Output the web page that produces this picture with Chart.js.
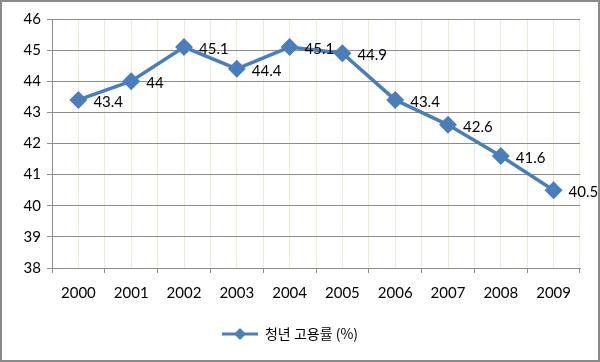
<!DOCTYPE html>
<html>
<head>
<meta charset="utf-8">
<script src="https://cdn.jsdelivr.net/npm/chart.js@4"></script>
<style>
    html, body { margin: 0; padding: 0; background: #fff; }
    #wrap { position: relative; width: 600px; height: 362px; }
    #frame {
        position: absolute; left: 0; top: 0; width: 600px; height: 362px;
        box-sizing: border-box; border: 2px solid #8a8a8a; pointer-events: none;
    }
</style>
</head>
<body>
<div id="wrap">
    <canvas id="rateChart" width="600" height="362"></canvas>
    <div id="frame"></div>
</div>
<script>
// 청년 고용률 데이터
const years = ['2000', '2001', '2002', '2003', '2004', '2005', '2006', '2007', '2008', '2009'];
const employmentRate = [43.4, 44, 45.1, 44.4, 45.1, 44.9, 43.4, 42.6, 41.6, 40.5];
const seriesName = '청년 고용률 (%)';
const yMin = 38;
const yMax = 46;

const lineBlue = '#4a7ebb';
const axisGray = '#8c8c8c';
const cream = '#ecebd6';

// legend marker: short line with a diamond
function legendMarker() {
    const c = document.createElement('canvas');
    c.width = 36;
    c.height = 14;
    const g = c.getContext('2d');
    g.strokeStyle = lineBlue;
    g.lineWidth = 3;
    g.beginPath();
    g.moveTo(0, 7);
    g.lineTo(36, 7);
    g.stroke();
    g.fillStyle = lineBlue;
    g.beginPath();
    g.moveTo(18, 1);
    g.lineTo(24, 7);
    g.lineTo(18, 13);
    g.lineTo(12, 7);
    g.closePath();
    g.fill();
    return c;
}

// value labels to the right of each point
const valueLabels = {
    id: 'valueLabels',
    afterDatasetsDraw(chart) {
        const ctx = chart.ctx;
        const meta = chart.getDatasetMeta(0);
        ctx.save();
        ctx.font = '15px Lato';
        ctx.fillStyle = '#000';
        ctx.textAlign = 'left';
        ctx.textBaseline = 'middle';
        meta.data.forEach((pt, i) => {
            ctx.fillText(String(employmentRate[i]), pt.x + 15, pt.y + 2);
        });
        ctx.restore();
    }
};

function initChart() {
    const ctx = document.getElementById('rateChart').getContext('2d');
    new Chart(ctx, {
        type: 'line',
        data: {
            labels: years,
            datasets: [{
                label: seriesName,
                data: employmentRate,
                borderColor: lineBlue,
                backgroundColor: lineBlue,
                borderWidth: 3.5,
                tension: 0,
                pointStyle: 'rectRot',
                pointRadius: 6.5,
                pointHoverRadius: 6.5,
                pointBackgroundColor: lineBlue,
                pointBorderColor: lineBlue
            }]
        },
        options: {
            responsive: false,
            animation: false,
            layout: { padding: { top: 19, right: 20, left: 0, bottom: 11 } },
            scales: {
                x: {
                    type: 'category',
                    offset: true,
                    grid: { offset: true, color: cream, tickColor: axisGray, tickLength: 5 },
                    border: { color: axisGray },
                    ticks: { color: '#000', font: { family: 'Lato', size: 15 }, padding: 11, maxRotation: 0 }
                },
                x2: {
                    type: 'category',
                    position: 'top',
                    labels: years,
                    offset: true,
                    grid: { offset: false, color: cream, drawTicks: false },
                    border: { display: false },
                    ticks: { display: false },
                    afterFit: (s) => { s.height = 0; }
                },
                y: {
                    min: yMin,
                    max: yMax,
                    ticks: { stepSize: 1, color: '#000', font: { family: 'Lato', size: 15 }, padding: 6 },
                    grid: { color: axisGray, tickColor: axisGray, tickLength: 5 },
                    border: { color: axisGray },
                    afterFit: (s) => { s.width = 52; }
                }
            },
            plugins: {
                tooltip: { enabled: false },
                legend: {
                    position: 'bottom',
                    labels: {
                        color: '#000',
                        font: { family: 'Noto Sans CJK KR', size: 14 },
                        usePointStyle: true,
                        pointStyleWidth: 36,
                        boxWidth: 36,
                        padding: 14,
                        generateLabels: (chart) => [{
                            text: seriesName,
                            pointStyle: legendMarker(),
                            fillStyle: lineBlue,
                            strokeStyle: lineBlue,
                            lineWidth: 0,
                            datasetIndex: 0
                        }]
                    }
                }
            }
        },
        plugins: [valueLabels]
    });
}

window.onload = initChart;
</script>
</body>
</html>
